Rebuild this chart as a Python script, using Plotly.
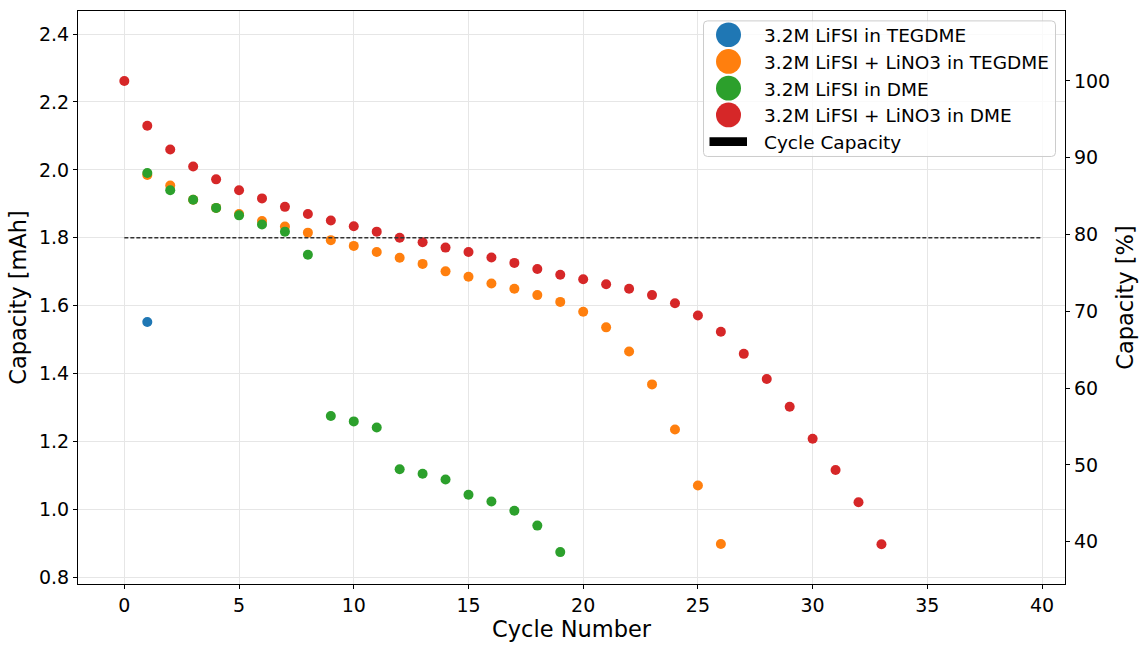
import plotly.graph_objects as go

cycles_tegdme = [1]
cap_tegdme = [1.552]

cycles_tegdme_lino3 = list(range(1, 27))
cap_tegdme_lino3 = [1.985, 1.954, 1.912, 1.888, 1.870, 1.849, 1.833, 1.815, 1.793, 1.776,
                    1.758, 1.741, 1.723, 1.701, 1.685, 1.665, 1.650, 1.631, 1.611, 1.582,
                    1.536, 1.465, 1.368, 1.235, 1.070, 0.898]

cycles_dme = list(range(1, 20))
cap_dme = [1.991, 1.940, 1.912, 1.888, 1.866, 1.839, 1.818, 1.750, 1.275, 1.259,
           1.241, 1.118, 1.105, 1.088, 1.043, 1.023, 0.996, 0.952, 0.874]

cycles_dme_lino3 = list(range(0, 34))
cap_dme_lino3 = [2.262, 2.130, 2.060, 2.010, 1.972, 1.940, 1.916, 1.891, 1.870, 1.851,
                 1.834, 1.818, 1.800, 1.787, 1.771, 1.758, 1.742, 1.726, 1.708, 1.691,
                 1.678, 1.663, 1.650, 1.631, 1.607, 1.571, 1.523, 1.458, 1.384, 1.302,
                 1.208, 1.116, 1.021, 0.897]

cutoff_x = [0, 40]
cutoff_y = [1.8, 1.8]

series_names = ["3.2M LiFSI in TEGDME", "3.2M LiFSI + LiNO3 in TEGDME",
                "3.2M LiFSI in DME", "3.2M LiFSI + LiNO3 in DME"]
series_colors = ["#1f77b4", "#ff7f0e", "#2ca02c", "#d62728"]
series_x = [cycles_tegdme, cycles_tegdme_lino3, cycles_dme, cycles_dme_lino3]
series_y = [cap_tegdme, cap_tegdme_lino3, cap_dme, cap_dme_lino3]
line_name = "Cycle Capacity"

FONT = "DejaVu Sans"
W, H = 1145, 646
ML, MR, MT, MB = 78, 80, 10, 57
PW, PH = W - ML - MR, H - MT - MB
y_lo, y_hi = 0.78, 2.468
ref = cap_dme_lino3[0]


def px(xp):
    return (xp - ML) / PW


def py(yp):
    return (H - MB - yp) / PH


fig = go.Figure()
for name, xs, ys, col in zip(series_names, series_x, series_y, series_colors):
    fig.add_trace(go.Scatter(x=xs, y=ys, mode="markers", name=name, showlegend=False,
                             marker=dict(color=col, size=10, line=dict(width=0))))

fig.add_trace(go.Scatter(x=cutoff_x, y=cutoff_y, mode="lines", name=line_name,
                         showlegend=False,
                         line=dict(color="#333333", width=1.5, dash="4px,2px")))

# percent axis helper (invisible)
fig.add_trace(go.Scatter(x=cycles_dme_lino3, y=[v / ref * 100 for v in cap_dme_lino3],
                         yaxis="y2", mode="markers", marker=dict(opacity=0),
                         showlegend=False, hoverinfo="skip"))

# manual legend (matplotlib-style)
shapes = []
annotations = []
bx0, bx1, by0, by1, r = 703.5, 1055.5, 20, 157, 4
path = (f"M {px(bx0 + r)} {py(by0)} L {px(bx1 - r)} {py(by0)} "
        f"Q {px(bx1)} {py(by0)} {px(bx1)} {py(by0 + r)} "
        f"L {px(bx1)} {py(by1 - r)} Q {px(bx1)} {py(by1)} {px(bx1 - r)} {py(by1)} "
        f"L {px(bx0 + r)} {py(by1)} Q {px(bx0)} {py(by1)} {px(bx0)} {py(by1 - r)} "
        f"L {px(bx0)} {py(by0 + r)} Q {px(bx0)} {py(by0)} {px(bx0 + r)} {py(by0)} Z")
shapes.append(dict(type="path", xref="paper", yref="paper", path=path,
                   fillcolor="rgba(255,255,255,0.8)", line=dict(color="#cccccc", width=1),
                   layer="above"))
row_y = [34, 61, 88, 115, 142]
cx, rad, tx = 728.5, 12.5, 762
for i, (name, col) in enumerate(zip(series_names, series_colors)):
    yc = row_y[i]
    shapes.append(dict(type="circle", xref="paper", yref="paper",
                       x0=px(cx - rad), x1=px(cx + rad), y0=py(yc + rad), y1=py(yc - rad),
                       fillcolor=col, line=dict(width=0), layer="above"))
    annotations.append(dict(text=name, xref="paper", yref="paper", x=px(tx), y=py(yc + 1),
                            xanchor="left", yanchor="middle", showarrow=False,
                            font=dict(size=18.5, family=FONT, color="black")))
shapes.append(dict(type="rect", xref="paper", yref="paper",
                   x0=px(709.5), x1=px(747), y0=py(146.5), y1=py(137.5),
                   fillcolor="black", line=dict(width=0), layer="above"))
annotations.append(dict(text=line_name, xref="paper", yref="paper", x=px(tx), y=py(row_y[4] + 1),
                        xanchor="left", yanchor="middle", showarrow=False,
                        font=dict(size=18.5, family=FONT, color="black")))

fig.update_layout(
    width=W, height=H,
    margin=dict(l=ML, r=MR, t=MT, b=MB),
    paper_bgcolor="white", plot_bgcolor="white",
    font=dict(family=FONT, color="black"),
    showlegend=False,
    shapes=shapes, annotations=annotations,
    xaxis=dict(range=[-2.02, 41.0], tickvals=list(range(0, 45, 5)),
               showgrid=True, gridcolor="#e6e6e6", gridwidth=1,
               showline=True, linecolor="black", linewidth=1.2, mirror=True,
               ticks="outside", ticklen=4, tickcolor="black",
               tickfont=dict(size=19, family=FONT),
               title=dict(text="Cycle Number", font=dict(size=22.5, family=FONT), standoff=4),
               zeroline=False),
    yaxis=dict(range=[y_lo, y_hi], tickvals=[0.8, 1.0, 1.2, 1.4, 1.6, 1.8, 2.0, 2.2, 2.4],
               ticktext=["0.8", "1.0", "1.2", "1.4", "1.6", "1.8", "2.0", "2.2", "2.4"],
               showgrid=True, gridcolor="#e6e6e6", gridwidth=1,
               showline=True, linecolor="black", linewidth=1.2, mirror=True,
               ticks="outside", ticklen=4, tickcolor="black",
               tickfont=dict(size=19, family=FONT),
               title=dict(text="Capacity [mAh]", font=dict(size=22.5, family=FONT), standoff=6),
               zeroline=False),
    yaxis2=dict(range=[y_lo / ref * 100, y_hi / ref * 100], overlaying="y", side="right",
                tickvals=[40, 50, 60, 70, 80, 90, 100], showgrid=False,
                showline=True, linecolor="black", linewidth=1.2,
                ticks="outside", ticklen=4, tickcolor="black",
                tickfont=dict(size=19, family=FONT),
                title=dict(text="Capacity [%]", font=dict(size=22.5, family=FONT), standoff=8),
                zeroline=False),
)

fig.write_html("out.html")
